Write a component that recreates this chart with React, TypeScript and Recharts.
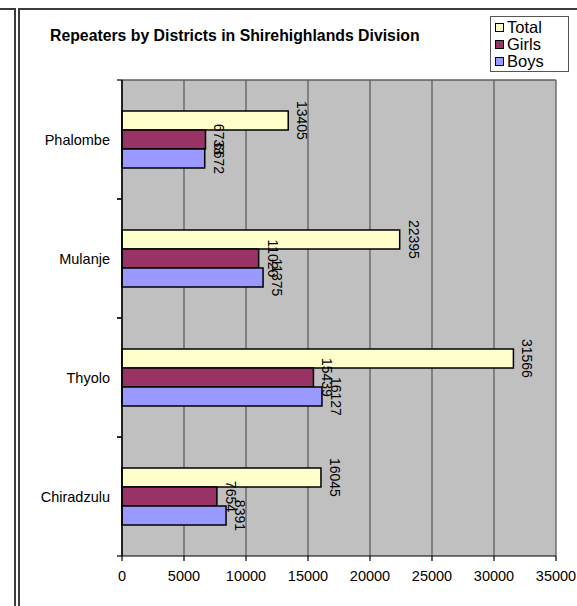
import React from "react";
import { BarChart, Bar, XAxis, YAxis, CartesianGrid, Legend, LabelList } from "recharts";

// districts listed top to bottom as in the chart
const districts = ["Phalombe", "Mulanje", "Thyolo", "Chiradzulu"];
const totalValues = [13405, 22395, 31566, 16045];
const girlsValues = [6733, 11020, 15439, 7654];
const boysValues = [6672, 11375, 16127, 8391];
const xTicks = [0, 5000, 10000, 15000, 20000, 25000, 30000, 35000];
const legendOrder = ["Total", "Girls", "Boys"];

const chartData = districts.map((name, i) => ({
  name,
  Total: totalValues[i],
  Girls: girlsValues[i],
  Boys: boysValues[i],
}));

const FONT = "'Liberation Sans', Arial, sans-serif";

// category label plus Excel-style tick marks on the band edges
const CategoryTick = (props: any) => {
  const { x, y, payload, height } = props;
  const half = height / districts.length / 2;
  return (
    <g>
      <line x1={x + 7} x2={x + 12} y1={y - half} y2={y - half} stroke="#000" strokeWidth={1.2} />
      <line x1={x + 7} x2={x + 12} y1={y + half} y2={y + half} stroke="#000" strokeWidth={1.2} />
      <text
        x={x}
        y={y}
        textAnchor="end"
        dominantBaseline="central"
        fontSize={14.5}
        fontFamily={FONT}
        fill="#000"
        stroke="none"
      >
        {payload.value}
      </text>
    </g>
  );
};

// value labels rotated 90deg, just past the bar end
const renderValue = (p: any) => {
  const cx = p.x + p.width + 14;
  const cy = p.y + p.height / 2;
  return (
    <text
      x={cx}
      y={cy}
      transform={`rotate(90 ${cx} ${cy})`}
      textAnchor="middle"
      dominantBaseline="central"
      fontSize={14}
      fontFamily={FONT}
      fill="#000"
      stroke="none"
    >
      {p.value}
    </text>
  );
};

const renderLegend = (props: any) => {
  const items = [...(props.payload || [])].sort(
    (a: any, b: any) => legendOrder.indexOf(a.value) - legendOrder.indexOf(b.value)
  );
  return (
    <div
      style={{
        border: "1px solid #555",
        background: "#fff",
        boxSizing: "border-box",
        width: 79,
        height: 56,
        padding: "2px 0 0 4px",
        fontFamily: FONT,
        fontSize: 16.5,
        lineHeight: "17px",
        color: "#000",
      }}
    >
      {items.map((entry: any) => (
        <div key={entry.value} style={{ display: "flex", alignItems: "center" }}>
          <span
            style={{
              display: "inline-block",
              width: 7,
              height: 7,
              border: "1.5px solid #000",
              background: entry.color,
              marginRight: 3,
            }}
          />
          <span>{entry.value}</span>
        </div>
      ))}
    </div>
  );
};

export default function App() {
  return (
    <div style={{ position: "absolute", left: 0, top: 0, width: 577, height: 606, background: "#fff", overflow: "hidden" }}>
      {/* frame lines of the surrounding sheet */}
      <div style={{ position: "absolute", left: -4, top: 8, width: 18, height: 700, borderTop: "2px solid #3c3c3c", borderRight: "2px solid #3c3c3c" }} />
      <div style={{ position: "absolute", left: 18, top: 8, width: 600, height: 700, borderTop: "2px solid #3c3c3c", borderLeft: "2px solid #3c3c3c" }} />

      <div
        style={{
          position: "absolute",
          left: 50,
          top: 27,
          fontFamily: FONT,
          fontWeight: "bold",
          fontSize: 15.8,
          whiteSpace: "nowrap",
          color: "#000",
        }}
      >
        Repeaters by Districts in Shirehighlands Division
      </div>

      <div style={{ position: "absolute", left: 0, top: 0 }}>
        <BarChart
          width={577}
          height={606}
          data={chartData}
          layout="vertical"
          margin={{ top: 80, right: 21, bottom: 20, left: 0 }}
          barCategoryGap="26%"
          barGap={0}
        >
          <CartesianGrid
            fill="#C0C0C0"
            stroke="#5f5f5f"
            strokeWidth={1.3}
            horizontalCoordinatesGenerator={({ offset }: any) => [offset.top]}
          />
          <XAxis
            type="number"
            domain={[0, 35000]}
            ticks={xTicks}
            interval={0}
            height={30}
            tickSize={5}
            tickMargin={10}
            axisLine={{ stroke: "#000", strokeWidth: 1.2 }}
            tickLine={{ stroke: "#000", strokeWidth: 1.2 }}
            tick={{ fill: "#000", fontSize: 14.5, fontFamily: FONT }}
          />
          <YAxis
            type="category"
            dataKey="name"
            width={122}
            tickSize={5}
            tickMargin={7}
            tickLine={false}
            axisLine={{ stroke: "#000", strokeWidth: 1.5 }}
            tick={<CategoryTick />}
          />
          <Legend
            layout="vertical"
            align="center"
            verticalAlign="middle"
            wrapperStyle={{ top: 16, left: 490, width: 79, height: 56 }}
            content={renderLegend}
          />
          <Bar dataKey="Total" fill="#FFFFCC" stroke="#000" strokeWidth={1.5} isAnimationActive={false}>
            <LabelList dataKey="Total" content={renderValue} />
          </Bar>
          <Bar dataKey="Girls" fill="#993366" stroke="#000" strokeWidth={1.5} isAnimationActive={false}>
            <LabelList dataKey="Girls" content={renderValue} />
          </Bar>
          <Bar dataKey="Boys" fill="#9999FF" stroke="#000" strokeWidth={1.5} isAnimationActive={false}>
            <LabelList dataKey="Boys" content={renderValue} />
          </Bar>
        </BarChart>
      </div>
    </div>
  );
}
